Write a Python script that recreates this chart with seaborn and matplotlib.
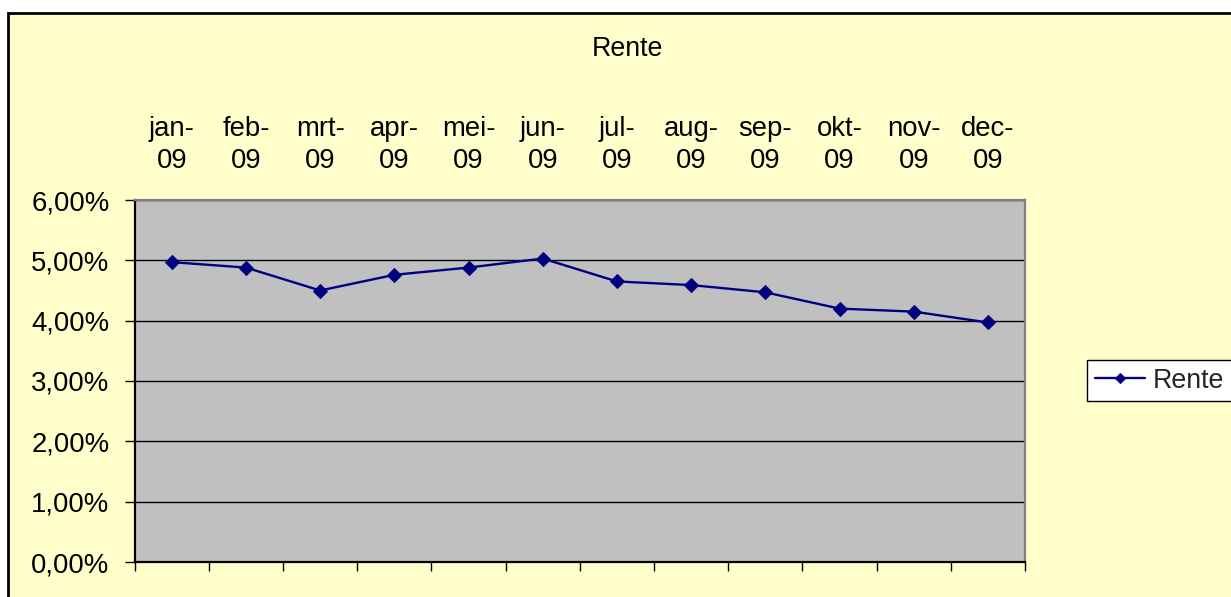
import matplotlib
matplotlib.use("Agg")
import matplotlib.pyplot as plt
from matplotlib.patches import Rectangle
from matplotlib.ticker import FuncFormatter, FixedLocator
import pandas as pd
import seaborn as sns

# Monthly interest rate, 2009 (percent)
maanden = ["jan-\n09", "feb-\n09", "mrt-\n09", "apr-\n09", "mei-\n09", "jun-\n09",
           "jul-\n09", "aug-\n09", "sep-\n09", "okt-\n09", "nov-\n09", "dec-\n09"]
rente = [4.97, 4.88, 4.50, 4.76, 4.88, 5.03, 4.65, 4.59, 4.47, 4.20, 4.15, 3.97]
y_ticks = [0, 1, 2, 3, 4, 5, 6]

df = pd.DataFrame({"maand": maanden, "Rente": rente})

sns.set_style("white")
plt.rcParams["font.family"] = ["Liberation Sans", "DejaVu Sans"]

W, H = 1231, 597
fig = plt.figure(figsize=(W / 100, H / 100), dpi=100, facecolor="white")

# chart area with thin black frame
fig.add_artist(Rectangle((8 / W, -0.1), 1.2, 1 - 13 / H + 0.1,
                         transform=fig.transFigure, facecolor="#FFFFCC",
                         edgecolor="black", linewidth=2, zorder=-10))

ax = fig.add_axes([134.7 / W, 1 - 562 / H, (1025 - 134.7) / W, (562 - 200) / H])
ax.set_facecolor("#C0C0C0")

sns.lineplot(data=df, x="maand", y="Rente", ax=ax, color="#000080",
             linewidth=1.7, marker="D", markersize=7,
             markeredgecolor="#000080", markerfacecolor="#000080",
             label="Rente", sort=False, legend=False)

ax.set_xlim(-0.5, len(maanden) - 0.5)
ax.set_ylim(y_ticks[0], y_ticks[-1])
ax.set_xlabel("")
ax.set_ylabel("")

# y axis: percent with decimal comma
ax.yaxis.set_major_locator(FixedLocator(y_ticks))
ax.yaxis.set_major_formatter(FuncFormatter(lambda v, p: f"{v:.2f}%".replace(".", ",")))
ax.tick_params(axis="y", which="major", left=True, length=7.2, width=1,
               color="black", pad=11, labelsize=19.8, labelcolor="black")
ax.grid(axis="y", color="black", linewidth=1)
ax.grid(axis="x", visible=False)

# x axis: month labels above the plot, tick marks between categories below
ax.set_xticks(range(len(maanden)))
ax.set_xticklabels(maanden, linespacing=1.3)
ax.tick_params(axis="x", which="major", bottom=False, top=False,
               labelbottom=False, labeltop=True, pad=15.5, labelsize=19.8,
               labelcolor="black")
ax.set_xticks([i - 0.5 for i in range(len(maanden) + 1)], minor=True)
ax.tick_params(axis="x", which="minor", bottom=True, top=False,
               length=6.5, width=1, color="black")

for side, col in [("left", "black"), ("bottom", "black"),
                  ("top", "#808080"), ("right", "#808080")]:
    ax.spines[side].set_visible(True)
    ax.spines[side].set_color(col)
    ax.spines[side].set_linewidth(1.6)

fig.text(627 / W, 1 - 49 / H, "Rente", ha="center", va="center",
         fontsize=19.3, color="black")

handles, labels = ax.get_legend_handles_labels()
leg = fig.legend(handles, labels, loc="center left",
                 bbox_to_anchor=(1087 / W, 1 - 380.5 / H),
                 bbox_transform=fig.transFigure, fontsize=19.3,
                 frameon=True, fancybox=False, edgecolor="black",
                 facecolor="white", framealpha=1, borderpad=0.28,
                 handlelength=1.9, handletextpad=0.27, borderaxespad=0)
leg.get_frame().set_linewidth(1)
for h in leg.legend_handles:
    h.set_markersize(5.5)

fig.savefig("out.png", dpi=100, facecolor="white")
